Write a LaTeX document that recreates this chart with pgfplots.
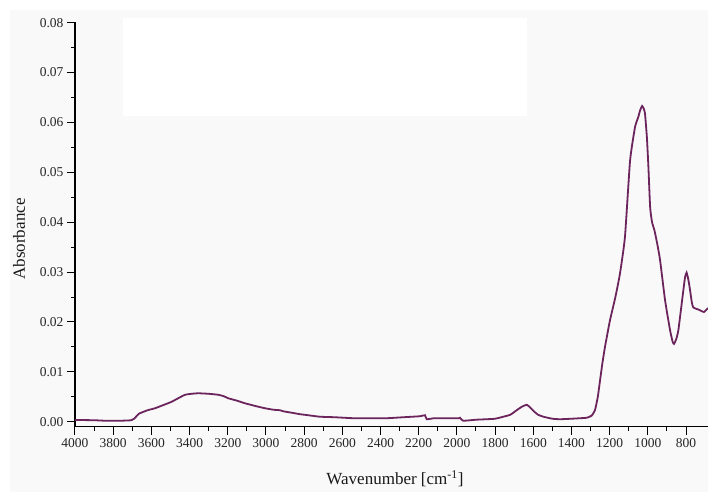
\documentclass[border=0pt]{standalone}
\usepackage{fontspec}
\setmainfont{Liberation Serif}
\usepackage{pgfplots}
\pgfplotsset{compat=1.18}
\definecolor{spec}{RGB}{108,36,92}
\definecolor{bggray}{RGB}{249,249,249}

\pgfplotstableread{
w A
4000 0.00035
3900 0.0003
3843 0.0002
3760 0.0002
3705 0.0003
3690 0.0006
3665 0.0016
3620 0.0023
3581 0.0027
3540 0.0033
3494 0.0040
3450 0.0049
3424 0.0054
3390 0.0056
3354 0.0057
3300 0.0056
3249 0.0054
3220 0.0051
3197 0.0047
3150 0.0042
3110 0.0037
3050 0.0031
3005 0.0027
2960 0.0024
2926 0.0023
2910 0.0021
2865 0.0018
2820 0.0015
2778 0.0013
2717 0.0010
2640 0.0009
2542 0.0007
2450 0.0007
2368 0.0007
2280 0.0009
2193 0.0011
2167 0.0013
2158 0.0005
2120 0.0007
2053 0.0007
1990 0.0007
1984 0.0008
1967 0.0002
1900 0.0004
1844 0.0005
1800 0.0006
1757 0.0010
1720 0.0014
1687 0.0023
1660 0.0030
1634 0.0034
1615 0.0028
1600 0.0022
1575 0.0014
1547 0.0010
1500 0.0006
1460 0.0005
1400 0.0006
1355 0.0007
1320 0.0008
1295 0.0012
1277 0.0023
1262 0.0050
1250 0.0084
1237 0.0120
1224 0.0151
1210 0.0180
1198 0.0204
1170 0.0250
1146 0.0297
1120 0.0370
1093 0.0524
1067 0.0591
1050 0.0611
1040 0.0625
1030 0.0633
1022 0.0628
1015 0.0618
1005 0.0570
997 0.0510
988 0.0430
978 0.0400
965 0.0383
950 0.0355
936 0.0324
910 0.0244
884 0.0184
870 0.0160
863 0.0156
852 0.0165
840 0.0184
814 0.0264
805 0.0290
797 0.0299
788 0.0285
779 0.0264
770 0.0240
762 0.0229
736 0.0225
720 0.0222
706 0.0220
695 0.0224
685 0.0228
}\spectrum

\begin{document}
\begin{tikzpicture}
% panel background (runs past the page frame on the right and bottom)
\fill[bggray] (10pt,-30pt) rectangle (740pt,481pt);
\fill[white] (123pt,375pt) rectangle (527pt,473pt);

\begin{axis}[
  at={(75pt,64.3pt)}, anchor=south west,
  scale only axis,
  width=633pt, height=405pt,
  x dir=reverse,
  xmin=685, xmax=4000,
  ymin=-0.001, ymax=0.0802,
  axis x line*=bottom, axis y line*=left,
  axis line style={-, line width=1.2pt},
  tick align=outside,
  major tick length=8pt, minor tick length=4pt,
  every tick/.style={black, line width=1pt},
  xtick={800,1000,...,4000},
  ytick={0,0.01,0.02,0.03,0.04,0.05,0.06,0.07,0.08},
  minor x tick num=1, minor y tick num=1,
  scaled y ticks=false,
  /pgf/number format/assume math mode=true,
  xticklabel style={/pgf/number format/1000 sep={}},
  yticklabel style={/pgf/number format/.cd, fixed, fixed zerofill, precision=2},
  tick label style={font=\fontsize{13.5}{15}\selectfont, text=black!85},
  label style={font=\fontsize{17}{20}\selectfont, text=black!90},
  xlabel={Wavenumber [cm\textsuperscript{-1}]},
  ylabel={Absorbance},
  xlabel style={at={(axis description cs:0.5055,-0.143)}, anchor=base},
  ylabel style={at={(axis description cs:-0.0885,0.4635)}, anchor=center},
  clip=false,
]
\addplot[color=spec, line width=1.8pt, smooth, tension=0.3] table[x=w, y=A] {\spectrum};
\end{axis}
% fix the page to the reference frame
\pgfresetboundingbox
\path[use as bounding box] (0,0) rectangle (708pt,491pt);
\end{tikzpicture}
\end{document}
